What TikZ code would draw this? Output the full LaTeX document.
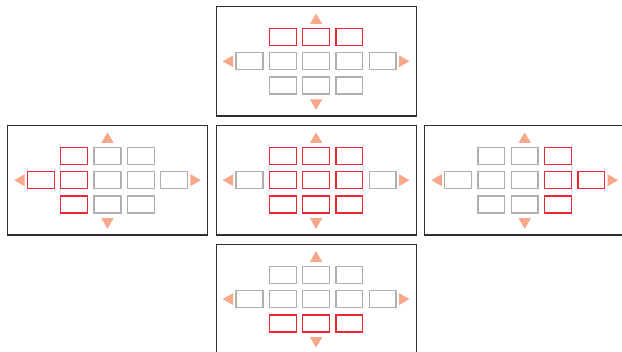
\documentclass[tikz,border=0pt]{standalone}
\usepackage{tikz}
\usepackage{xcolor}
\usetikzlibrary{positioning}
\definecolor{keyred}{RGB}{232,40,50}
\definecolor{keygray}{RGB}{176,176,176}
\definecolor{tipsalmon}{RGB}{247,168,138}
\definecolor{framegray}{RGB}{45,45,45}
% one panel: name, centre x, centre y, test for a red key
\newcommand{\keypad}[4]{%
  \node[frame] (#1-frame) at (#2,#3) {};
  \foreach \c/\r in {-1/-1,0/-1,1/-1,-2/0,-1/0,0/0,1/0,2/0,-1/1,0/1,1/1} {
    \pgfmathtruncatemacro{\hot}{(#4) ? 1 : 0}
    \ifnum\hot=1 \def\kst{hotkey}\else\def\kst{key}\fi
    \node[\kst] (#1-\c-\r) at ([shift={(\c*33.3,\r*24.3)}]#1-frame.center) {};
  }
  \fill[tip] ([shift={(-6.2,-37.3)}]#1-frame.center) -- ++(12.4,0) -- ++(-6.2,-10.5) -- cycle;
  \fill[tip] ([shift={(-6.2,38)}]#1-frame.center) -- ++(12.4,0) -- ++(-6.2,10.5) -- cycle;
  \fill[tip] ([shift={(-82.9,-6)}]#1-frame.center) -- ++(0,12) -- ++(-10.5,-6) -- cycle;
  \fill[tip] ([shift={(82.9,-6)}]#1-frame.center) -- ++(0,12) -- ++(10.5,-6) -- cycle;
}

\begin{document}
\begin{tikzpicture}[x=1pt, y=-1pt,
    frame/.style={rectangle,draw=framegray,line width=1.2pt,inner sep=0pt,
      minimum width=200pt,minimum height=109.5pt},
    key/.style={rectangle,draw=keygray,line width=1.3pt,inner sep=0pt,
      minimum width=26.8pt,minimum height=17pt},
    hotkey/.style={key,draw=keyred},
    tip/.style={fill=tipsalmon}]
  \useasboundingbox (0,0) rectangle (622,352);
  \keypad{top}{316.1}{61.3}{\r<0}
  \keypad{left}{107.5}{180.2}{\c<0}
  \keypad{mid}{316.1}{180.2}{abs(\c)<2}
  \keypad{right}{524.7}{180.2}{\c>0}
  \keypad{bot}{316.1}{299.1}{\r>0}
\end{tikzpicture}
\end{document}
